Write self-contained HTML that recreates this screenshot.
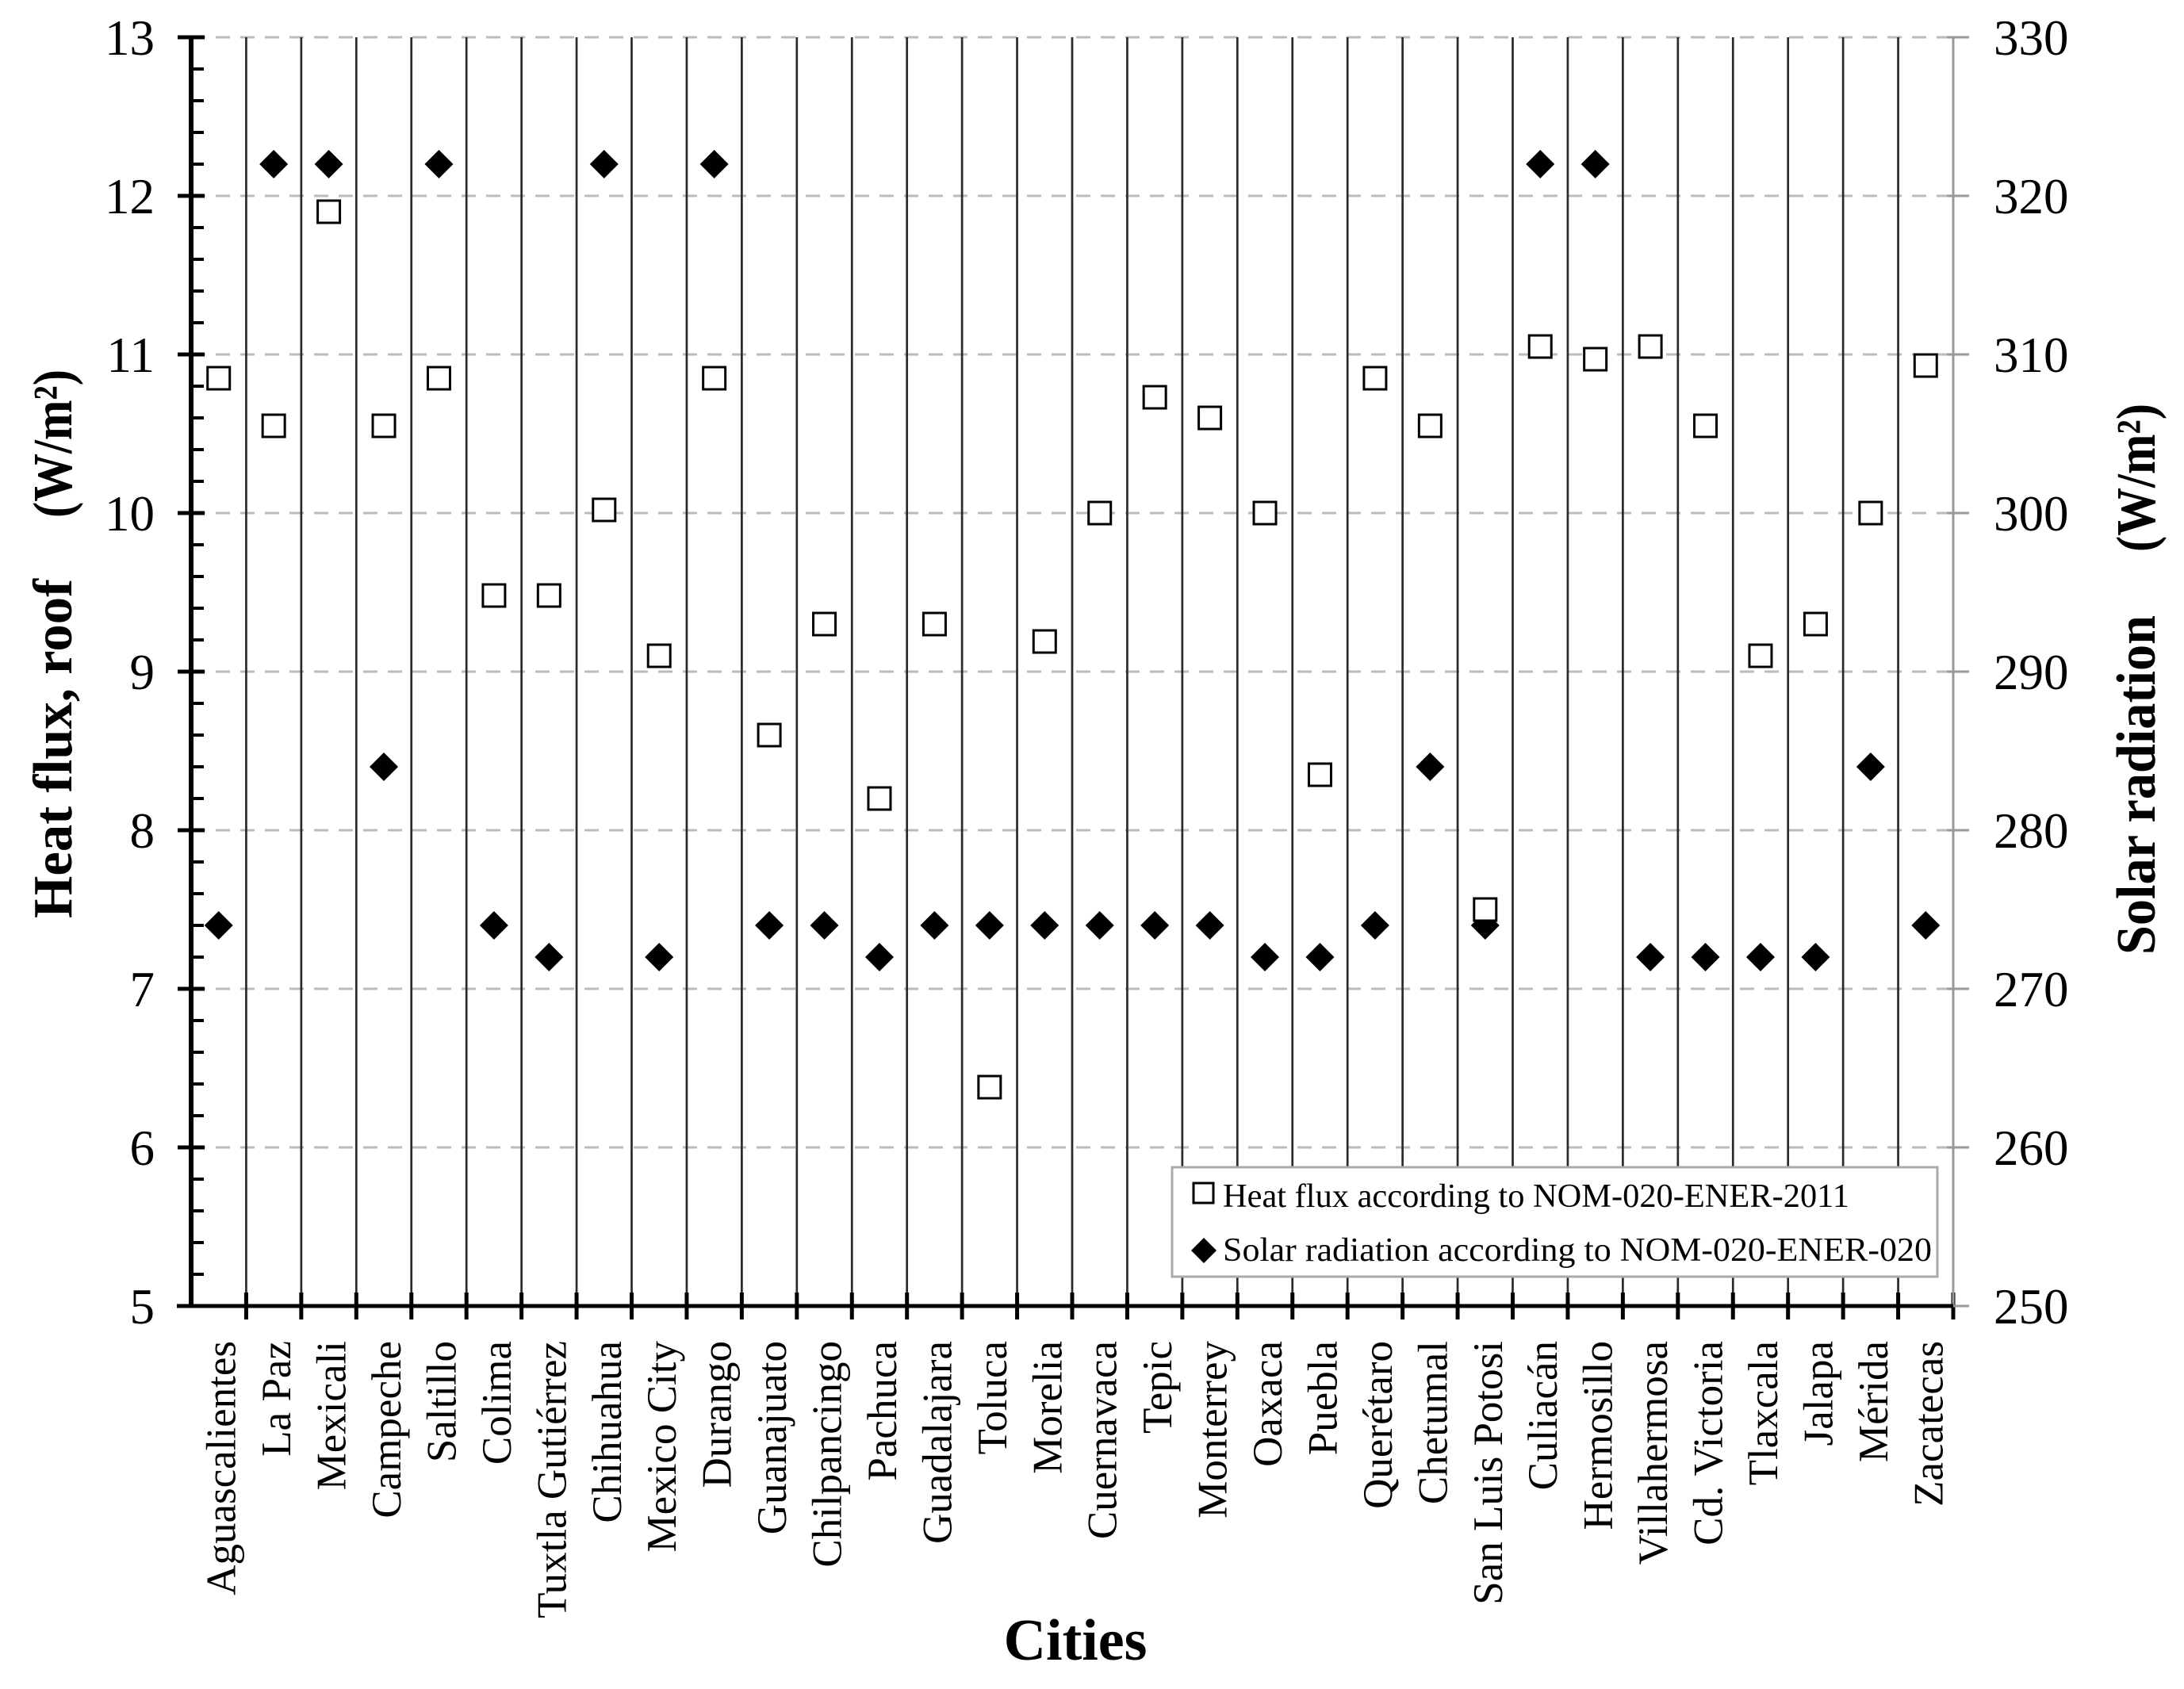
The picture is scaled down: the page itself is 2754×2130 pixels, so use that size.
<!DOCTYPE html>
<html><head><meta charset="utf-8"><style>
html,body{margin:0;padding:0;background:#fff}
svg{display:block}
text{font-family:"Liberation Serif",serif;fill:#000}
</style></head><body>
<svg id="chart" width="2754" height="2130" viewBox="0 0 2754 2130" xmlns="http://www.w3.org/2000/svg">
<g id="grid"></g>
<g id="seps"></g>
<g id="axes"></g>
<g id="ticks"></g>
<g id="xlabels"></g>
<g id="series"></g>
<text transform="translate(90,1158) rotate(-90)" font-size="70" font-weight="bold" textLength="428" lengthAdjust="spacingAndGlyphs">Heat flux, roof</text>
<text transform="translate(90,653) rotate(-90)" font-size="70" font-weight="bold" textLength="187" lengthAdjust="spacingAndGlyphs">(W/m²)</text>
<text transform="translate(2717,1204) rotate(-90)" font-size="70" font-weight="bold" textLength="428" lengthAdjust="spacingAndGlyphs">Solar radiation</text>
<text transform="translate(2717,696) rotate(-90)" font-size="70" font-weight="bold" textLength="187" lengthAdjust="spacingAndGlyphs">(W/m²)</text>
<text x="1356" y="2093" font-size="74" font-weight="bold" text-anchor="middle">Cities</text>
<g>
<rect x="1478" y="1472" width="965" height="138" fill="#fff" stroke="#aaa" stroke-width="3"/>
<rect x="1505" y="1492" width="25" height="25" fill="#fff" stroke="#000" stroke-width="3"/>
<text x="1542" y="1522" font-size="42" textLength="790" lengthAdjust="spacingAndGlyphs">Heat flux according to NOM-020-ENER-2011</text>
<path d="M1518 1561 L1534 1577 L1518 1593 L1502 1577 Z" fill="#000"/>
<text x="1542" y="1590" font-size="42" textLength="894" lengthAdjust="spacingAndGlyphs">Solar radiation according to NOM-020-ENER-020</text>
</g>
</svg>
<script>
const cities = ["Aguascalientes","La Paz","Mexicali","Campeche","Saltillo","Colima","Tuxtla Gutiérrez","Chihuahua","Mexico City","Durango","Guanajuato","Chilpancingo","Pachuca","Guadalajara","Toluca","Morelia","Cuernavaca","Tepic","Monterrey","Oaxaca","Puebla","Querétaro","Chetumal","San Luis Potosi","Culiacán","Hermosillo","Villahermosa","Cd. Victoria","Tlaxcala","Jalapa","Mérida","Zacatecas"];
const heatFlux = [10.85,10.55,11.9,10.55,10.85,9.48,9.48,10.02,9.1,10.85,8.6,9.3,8.2,9.3,6.38,9.19,10.0,10.73,10.6,10.0,8.35,10.85,10.55,7.5,11.05,10.97,11.05,10.55,9.1,9.3,10.0,10.93];
const solarRad = [274,322,322,284,322,274,272,322,272,322,274,274,272,274,274,274,274,274,274,272,272,274,284,274,322,322,272,272,272,272,284,274];
const leftTicks = [5,6,7,8,9,10,11,12,13];
const rightTicks = [250,260,270,280,290,300,310,320,330];

const NS="http://www.w3.org/2000/svg";
const X0=241, X1=2463, Y0=47, Y1=1647;
const bw=(X1-X0)/cities.length;
const yL=v=>Y1-(v-5)/8*(Y1-Y0);
const yR=v=>Y1-(v-250)/80*(Y1-Y0);
const xC=i=>X0+bw*(i+0.5);
function mk(tag,attrs,parent){const e=document.createElementNS(NS,tag);for(const k in attrs)e.setAttribute(k,attrs[k]);document.getElementById(parent).appendChild(e);return e;}

leftTicks.forEach((v,i)=>{
  if(i>0){const g=mk('line',{x1:X0,x2:X1+20,y1:yL(v),y2:yL(v),stroke:'#bbb','stroke-width':3,'stroke-dasharray':'18 13'},'grid');
  
  }
  const t=mk('text',{x:195,y:yL(v)+22,'font-size':63,'text-anchor':'end'},'ticks');
  t.textContent=v;
  
  
  const tk=mk('line',{x1:224,x2:258,y1:yL(v),y2:yL(v),stroke:'#000','stroke-width':5},'axes');
  
  
  const rt=mk('line',{x1:X1-8,x2:X1+20,y1:yL(v),y2:yL(v),stroke:'#999','stroke-width':3},'axes');
  
  
});
for(let v=5.2;v<13;v+=0.2){
  if(Math.abs(v-Math.round(v))<0.01)continue;
  const m=mk('line',{x1:X0,x2:257,y1:yL(v),y2:yL(v),stroke:'#000','stroke-width':4},'axes');
  
  
}
rightTicks.forEach(v=>{
  const t=mk('text',{x:2514,y:yR(v)+22,'font-size':63},'ticks');
  t.textContent=v;
  
  
});
for(let i=1;i<=cities.length;i++){
  const x=X0+bw*i;
  if(i<cities.length){const s=mk('line',{x1:x,x2:x,y1:Y0,y2:Y1,stroke:'#2a2a2a','stroke-width':2.7},'seps');
  
  }
  const tk=mk('line',{x1:x,x2:x,y1:Y1-17,y2:Y1+17,stroke:'#000','stroke-width':5},'axes');
  
  
}
const ra=mk('line',{x1:X1,x2:X1,y1:Y0,y2:Y1,stroke:'#999','stroke-width':3},'axes');


const la=mk('line',{x1:X0,x2:X0,y1:Y0-2,y2:Y1+2,stroke:'#000','stroke-width':6},'axes');


const ba=mk('line',{x1:X0-18,x2:X1,y1:Y1,y2:Y1,stroke:'#000','stroke-width':5},'axes');


const ba2=mk('line',{x1:X1,x2:X1+20,y1:Y1,y2:Y1,stroke:'#999','stroke-width':3},'axes');



cities.forEach((c,i)=>{
  const x=xC(i)+21;
  const t=mk('text',{transform:`translate(${x},1691) rotate(-90)`,'font-size':53,'text-anchor':'end'},'xlabels');
  t.textContent=c;
  
  
});
solarRad.forEach((v,i)=>{
  const x=xC(i),y=yR(v);
  const d=mk('path',{d:`M${x} ${y-18} L${x+18} ${y} L${x} ${y+18} L${x-18} ${y} Z`,fill:'#000'},'series');
  
  
});
heatFlux.forEach((v,i)=>{
  const x=xC(i),y=yL(v);
  const s=mk('rect',{x:x-14,y:y-14,width:28,height:28,fill:'#fff',stroke:'#000','stroke-width':3},'series');
  
  
});
</script>
</body></html>
